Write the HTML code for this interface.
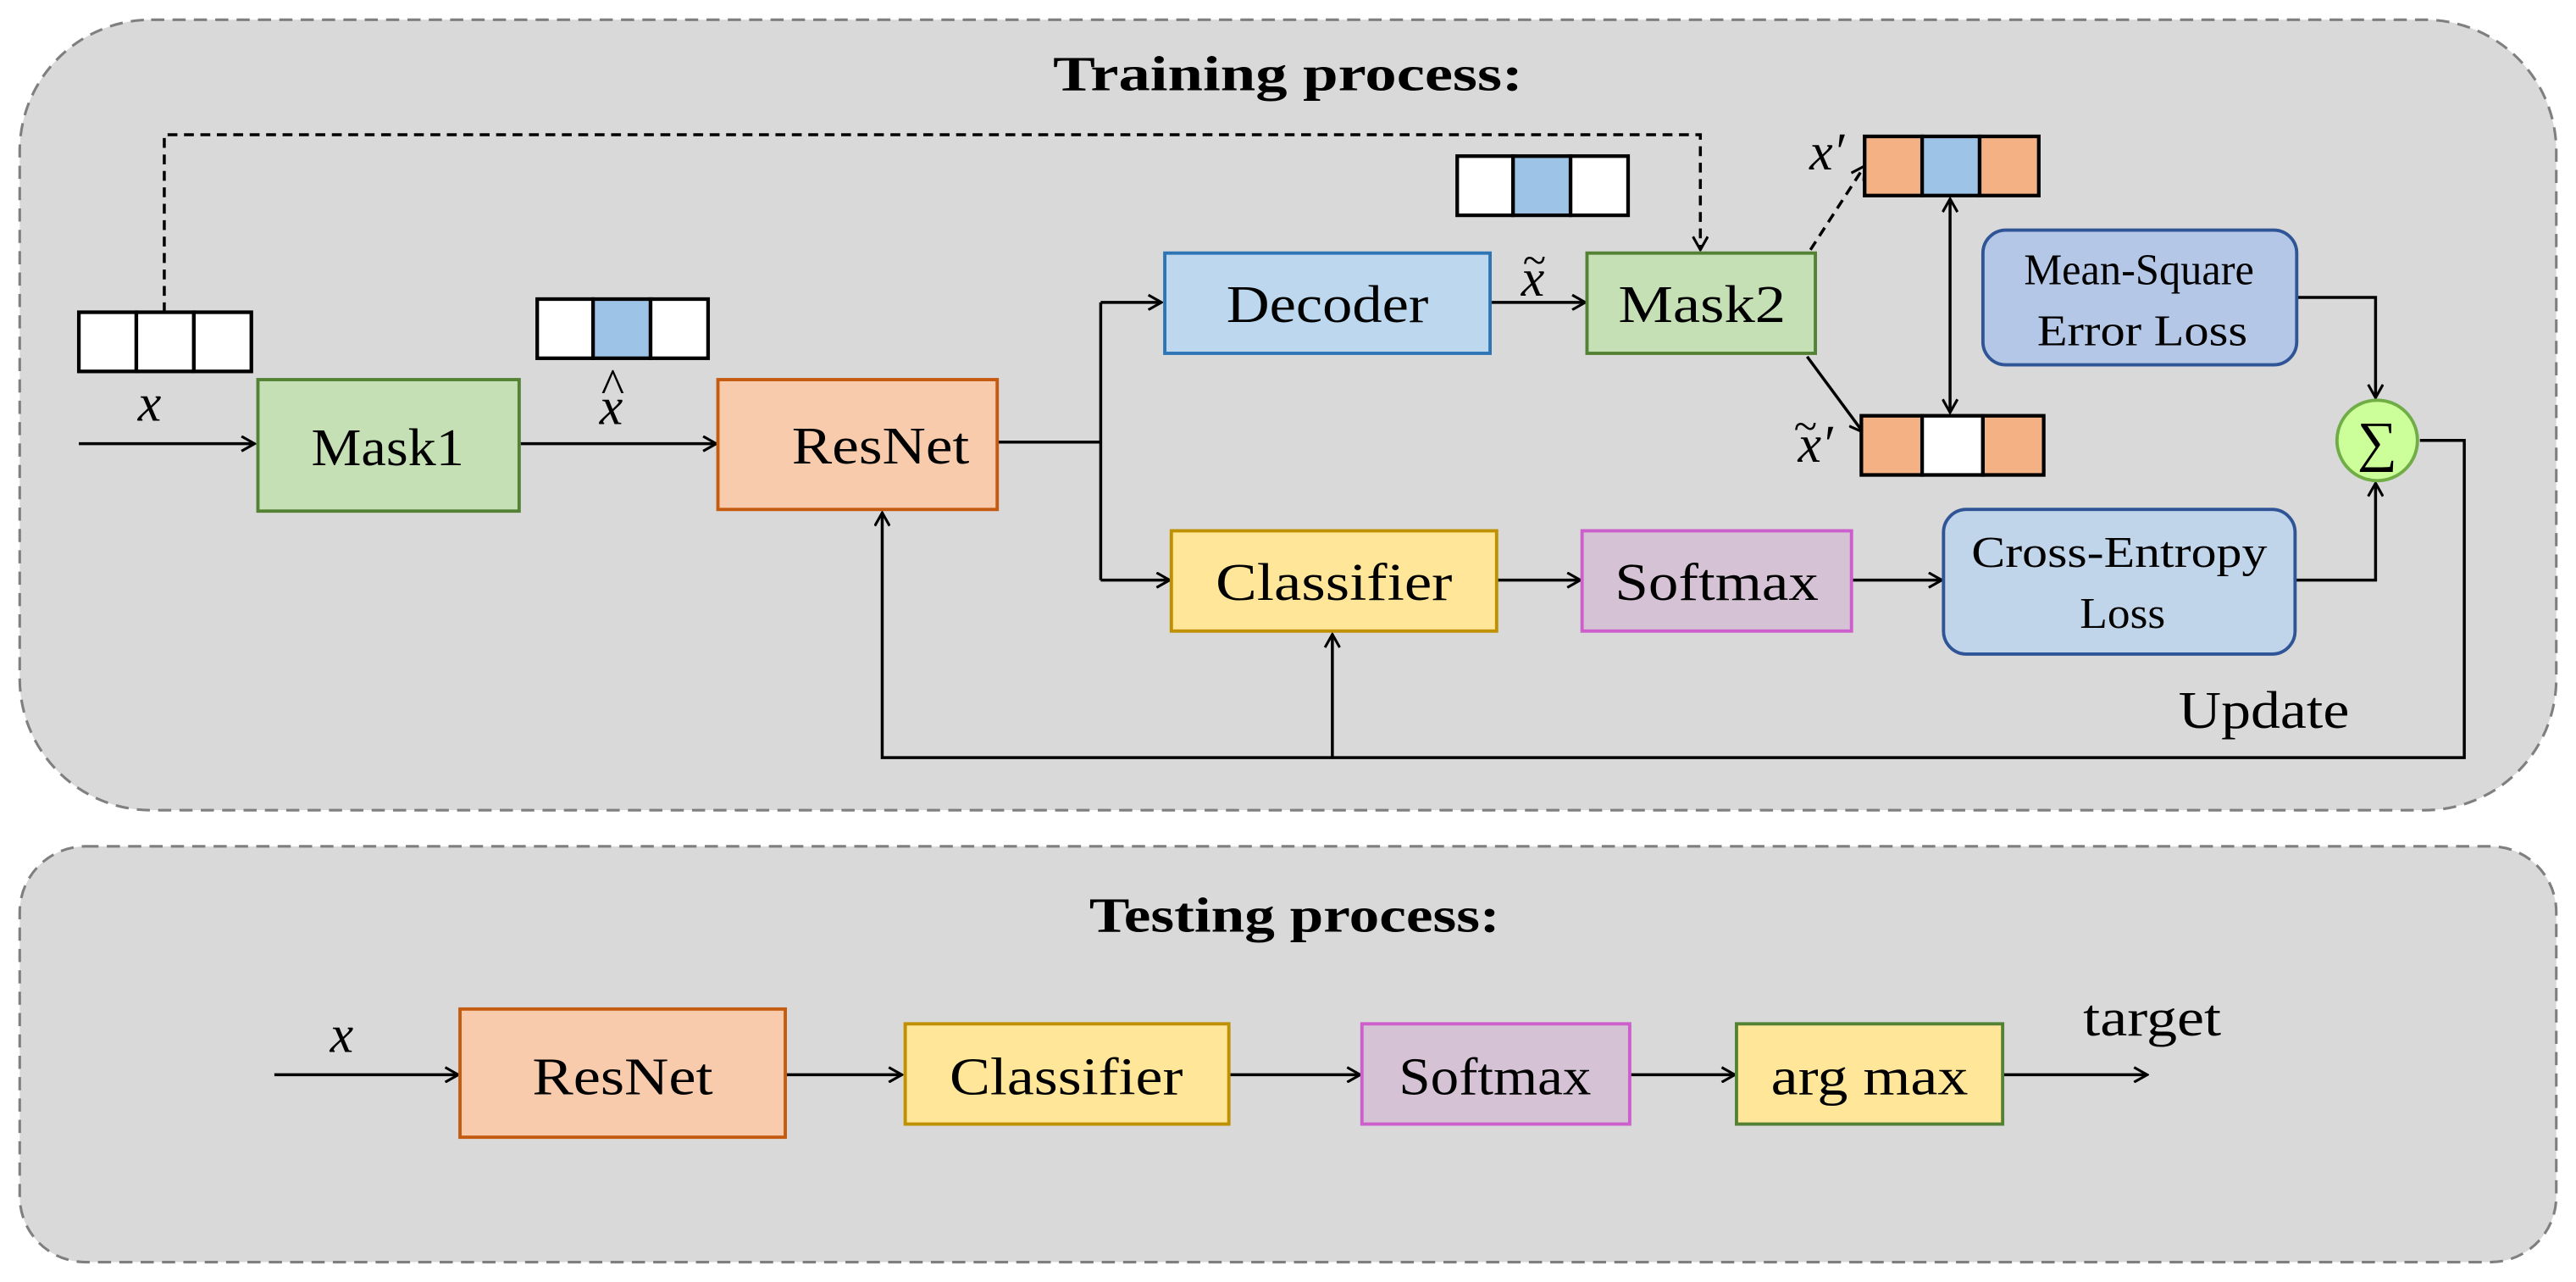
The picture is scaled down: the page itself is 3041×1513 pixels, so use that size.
<!DOCTYPE html>
<html><head><meta charset="utf-8"><style>
html,body{margin:0;padding:0;background:#fff;}
svg{display:block;}
text{font-family:"Liberation Serif",serif;fill:#000;}
</style></head><body>
<svg width="3041" height="1513" viewBox="0 0 1568 780.1" preserveAspectRatio="none" xmlns="http://www.w3.org/2000/svg">
<defs>
<marker id="a" viewBox="0 0 10 10" refX="9" refY="5" markerWidth="10" markerHeight="10" markerUnits="userSpaceOnUse" orient="auto-start-reverse">
<path d="M1,0.5 L9,5 L1,9.5" fill="none" stroke="#000" stroke-width="1.6"/>
</marker>
</defs>
<rect x="12" y="12" width="1544" height="481" rx="80" fill="#d9d9d9" stroke="#7f7f7f" stroke-width="1.6" stroke-dasharray="8,5"/>
<rect x="12" y="515" width="1544" height="253" rx="40" fill="#d9d9d9" stroke="#7f7f7f" stroke-width="1.6" stroke-dasharray="8,5"/>
<text x="784" y="55" font-size="30" font-weight="bold" text-anchor="middle" textLength="286" lengthAdjust="spacingAndGlyphs">Training process:</text>
<text x="788" y="567" font-size="30" font-weight="bold" text-anchor="middle" textLength="250" lengthAdjust="spacingAndGlyphs">Testing process:</text>

<g stroke="#000" stroke-width="1.8" fill="none">
<path d="M100,190 V82 H1035 V152" stroke-dasharray="6,4" marker-end="url(#a)"/>
<path d="M1102,152 L1135,101" stroke-dasharray="6,4" marker-end="url(#a)"/>
<path d="M1100,217 L1134,263" marker-end="url(#a)"/>
<path d="M1187,121 V251" marker-start="url(#a)" marker-end="url(#a)"/>
<path d="M48,270 H155" marker-end="url(#a)"/>
<path d="M317,270 H436" marker-end="url(#a)"/>
<path d="M607,269 H670 M670,184 V353"/>
<path d="M670,184 H707" marker-end="url(#a)"/>
<path d="M670,353 H712" marker-end="url(#a)"/>
<path d="M907,184 H965" marker-end="url(#a)"/>
<path d="M911,353 H962" marker-end="url(#a)"/>
<path d="M1127,353 H1182" marker-end="url(#a)"/>
<path d="M1398,181 H1446 V242" marker-end="url(#a)"/>
<path d="M1397,353 H1446 V294" marker-end="url(#a)"/>
<path d="M1473,268 H1500 V461 H537 V312" marker-end="url(#a)"/>
<path d="M811,461 V386" marker-end="url(#a)"/>
<path d="M167,654 H279" marker-end="url(#a)"/>
<path d="M478,654 H549" marker-end="url(#a)"/>
<path d="M748,654 H828" marker-end="url(#a)"/>
<path d="M992,654 H1056" marker-end="url(#a)"/>
<path d="M1219,654 H1307" marker-end="url(#a)"/>
</g>

<g stroke="#000" stroke-width="2.2">
<rect x="48" y="190" width="35" height="36" fill="#fff"/><rect x="83" y="190" width="35" height="36" fill="#fff"/><rect x="118" y="190" width="35" height="36" fill="#fff"/>
<rect x="327" y="182" width="34" height="36" fill="#fff"/><rect x="361" y="182" width="35" height="36" fill="#9dc3e6"/><rect x="396" y="182" width="35" height="36" fill="#fff"/>
<rect x="887" y="95" width="34" height="36" fill="#fff"/><rect x="921" y="95" width="35" height="36" fill="#9dc3e6"/><rect x="956" y="95" width="35" height="36" fill="#fff"/>
<rect x="1135" y="83" width="35" height="36" fill="#f4b183"/><rect x="1170" y="83" width="35" height="36" fill="#9dc3e6"/><rect x="1205" y="83" width="36" height="36" fill="#f4b183"/>
<rect x="1133" y="253" width="37" height="36" fill="#f4b183"/><rect x="1170" y="253" width="37" height="36" fill="#fff"/><rect x="1207" y="253" width="37" height="36" fill="#f4b183"/>
</g>

<g stroke-width="2">
<rect x="157" y="231" width="159" height="80" fill="#c5e0b4" stroke="#548235"/>
<rect x="437" y="231" width="170" height="79" fill="#f8cbad" stroke="#c55a11"/>
<rect x="709" y="154" width="198" height="61" fill="#bdd7ee" stroke="#2e75b6"/>
<rect x="966" y="154" width="139" height="61" fill="#c5e0b4" stroke="#548235"/>
<rect x="713" y="323" width="198" height="61" fill="#ffe699" stroke="#bf9000"/>
<rect x="963" y="323" width="164" height="61" fill="#d5c3d5" stroke="#cc5fcc"/>
<rect x="1207" y="140" width="191" height="82" rx="14" fill="#b4c7e7" stroke="#2f5597"/>
<rect x="1183" y="310" width="214" height="88" rx="14" fill="#c0d4ea" stroke="#2f5597"/>
<circle cx="1447" cy="268" r="24.5" fill="#ccff99" stroke="#70ad47"/>
<rect x="280" y="614" width="198" height="78" fill="#f8cbad" stroke="#c55a11"/>
<rect x="551" y="623" width="197" height="61" fill="#ffe699" stroke="#bf9000"/>
<rect x="829" y="623" width="163" height="61" fill="#d5c3d5" stroke="#cc5fcc"/>
<rect x="1057" y="623" width="162" height="61" fill="#ffe699" stroke="#548235"/>
</g>

<g font-size="32" text-anchor="middle">
<text x="236" y="283" textLength="93" lengthAdjust="spacingAndGlyphs">Mask1</text>
<text x="536" y="282" textLength="108" lengthAdjust="spacingAndGlyphs">ResNet</text>
<text x="808" y="196" textLength="123" lengthAdjust="spacingAndGlyphs">Decoder</text>
<text x="1036" y="196" textLength="102" lengthAdjust="spacingAndGlyphs">Mask2</text>
<text x="812" y="365" textLength="144" lengthAdjust="spacingAndGlyphs">Classifier</text>
<text x="1045" y="365" textLength="124" lengthAdjust="spacingAndGlyphs">Softmax</text>
<text x="1378" y="443" textLength="104" lengthAdjust="spacingAndGlyphs">Update</text>
<text x="379" y="666" textLength="110" lengthAdjust="spacingAndGlyphs">ResNet</text>
<text x="649" y="666" textLength="142" lengthAdjust="spacingAndGlyphs">Classifier</text>
<text x="910" y="666" textLength="117" lengthAdjust="spacingAndGlyphs">Softmax</text>
<text x="1138" y="666" textLength="120" lengthAdjust="spacingAndGlyphs">arg max</text>
<text x="1310" y="630" textLength="84" lengthAdjust="spacingAndGlyphs">target</text>
</g>
<g font-size="27" text-anchor="middle">
<text x="1302" y="173" textLength="140" lengthAdjust="spacingAndGlyphs">Mean-Square</text>
<text x="1304" y="210" textLength="128" lengthAdjust="spacingAndGlyphs">Error Loss</text>
<text x="1290" y="345" textLength="180" lengthAdjust="spacingAndGlyphs">Cross-Entropy</text>
<text x="1292" y="382" textLength="52" lengthAdjust="spacingAndGlyphs">Loss</text>
</g>
<text x="1447" y="280" font-size="34" text-anchor="middle">∑</text>
<g font-size="32" font-style="italic" text-anchor="middle">
<text x="91" y="256">x</text>
<text x="372" y="258">x</text>
<text x="373" y="245" font-size="30" font-style="normal">^</text>
<text x="933" y="180">x</text>
<text x="934" y="167" font-size="26" font-style="normal">~</text>
<text x="1112" y="103">x′</text>
<text x="1105" y="281">x′</text>
<text x="1099" y="268" font-size="26" font-style="normal">~</text>
<text x="208" y="640">x</text>
</g>
</svg>
</body></html>
